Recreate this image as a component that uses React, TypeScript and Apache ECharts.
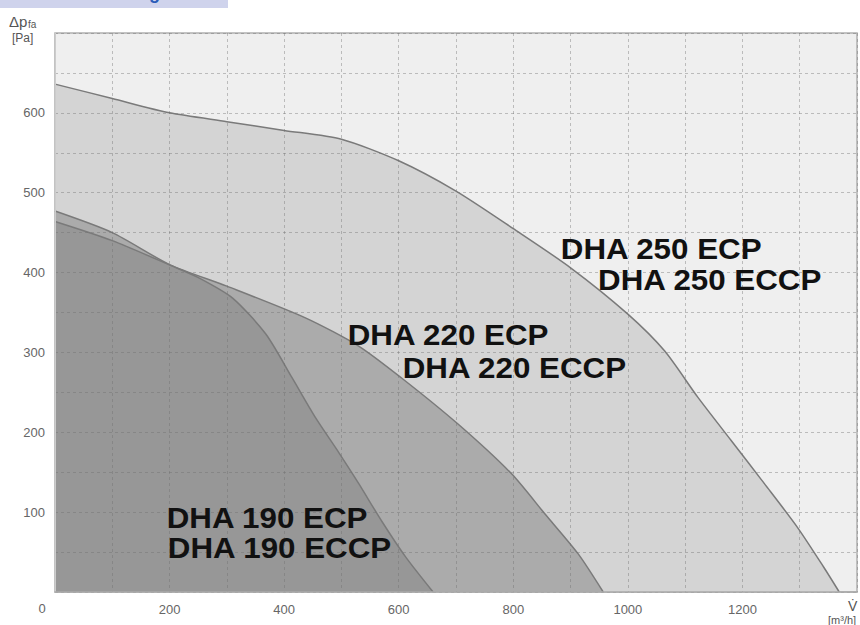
import React, { useEffect, useRef } from "react";
import * as echarts from "echarts";

// Air flow V [m³/h] and static pressure Δp_fa [Pa]
const flow250 = [0, 100, 200, 300, 400, 500, 600, 700, 800, 900, 1000, 1064, 1122, 1180, 1238, 1296, 1342, 1369];
const pres250 = [636, 618, 600, 589, 578, 567, 540, 502, 455, 406, 348, 302, 244, 190, 136, 81, 31, 0];

const flow220 = [0, 100, 200, 300, 438, 530, 605, 704, 797, 855, 913, 957];
const pres220 = [477, 450, 410, 383, 343, 308, 268, 210, 148, 98, 48, 0];

const flow190 = [0, 100, 205, 252, 310, 368, 414, 455, 496, 530, 571, 612, 660];
const pres190 = [464, 440, 408, 393, 368, 323, 268, 218, 174, 136, 88, 44, 0];

const xTickLabels = [200, 400, 600, 800, 1000, 1200];
const yTickLabels = [100, 200, 300, 400, 500, 600];

const labels250 = ["DHA 250 ECP", "DHA 250 ECCP"];
const labels220 = ["DHA 220 ECP", "DHA 220 ECCP"];
const labels190 = ["DHA 190 ECP", "DHA 190 ECCP"];

const FONT = "'Liberation Sans', Arial, sans-serif";

function makeSeries(name: string, xs: number[], ys: number[], fill: string) {
  return {
    type: "line",
    name,
    data: xs.map((x, i) => [x, ys[i]]),
    symbol: "none",
    smooth: 0.25,
    lineStyle: { color: "#7a7a7a", width: 1.5 },
    areaStyle: { color: fill, opacity: 1 },
    z: 2,
    silent: true,
  };
}

export default function App() {
  const ref = useRef<HTMLDivElement>(null);
  useEffect(() => {
    const chart = echarts.init(ref.current!, null, { renderer: "svg" });
    const grid = "rgba(110,110,110,0.4)";
    chart.setOption({
      animation: false,
      backgroundColor: "#ffffff",
      grid: {
        left: 55,
        right: -1,
        top: 33,
        bottom: 33,
        show: true,
        backgroundColor: "#efefef",
        borderColor: "#b0b0b0",
        borderWidth: 1.5,
      },
      xAxis: {
        type: "value",
        min: 0,
        max: 1400,
        interval: 100,
        z: 3,
        axisLine: { show: true, lineStyle: { color: "#aaaaaa", width: 1.5 } },
        axisTick: { show: false },
        axisLabel: {
          formatter: (v: number) => (xTickLabels.includes(v) ? String(v) : ""),
          color: "#666",
          fontSize: 13,
          margin: 11,
          fontFamily: FONT,
        },
        splitLine: { show: true, lineStyle: { color: grid, type: [3, 3], width: 1 } },
      },
      yAxis: {
        type: "value",
        min: 0,
        max: 700,
        interval: 50,
        z: 3,
        axisLine: { show: true, lineStyle: { color: "#cccccc", width: 1 } },
        axisTick: { show: false },
        axisLabel: {
          formatter: (v: number) => (yTickLabels.includes(v) ? String(v) : ""),
          color: "#666",
          fontSize: 13,
          margin: 10,
          fontFamily: FONT,
        },
        splitLine: { show: true, lineStyle: { color: grid, type: [3, 3], width: 1 } },
      },
      series: [
        makeSeries("DHA 250", flow250, pres250, "#d4d4d4"),
        makeSeries("DHA 220", flow220, pres220, "#ababab"),
        makeSeries("DHA 190", flow190, pres190, "#979797"),
      ],
    });

    // curve labels anchored in data coordinates (left edge, vertical middle)
    const annotations: { text: string; at: number[] }[] = [
      { text: labels250[0], at: [883, 430] },
      { text: labels250[1], at: [948, 391] },
      { text: labels220[0], at: [511, 322] },
      { text: labels220[1], at: [607, 281] },
      { text: labels190[0], at: [195, 93] },
      { text: labels190[1], at: [197, 55] },
    ];
    const labelGraphics = annotations.map((a) => {
      const p = chart.convertToPixel({ gridIndex: 0 }, a.at) as number[];
      return {
        type: "text",
        x: p[0],
        y: p[1],
        scaleX: 1.08,
        z: 100,
        style: {
          text: a.text,
          fill: "#111",
          font: `bold 29px ${FONT}`,
          textVerticalAlign: "middle",
          lineHeight: 29,
        },
      };
    });

    chart.setOption({
      graphic: [
        { type: "rect", left: 0, top: 0, shape: { width: 228, height: 8 }, style: { fill: "#cfd3ec" } },
        {
          type: "text",
          x: 8,
          y: 2,
          style: {
            text: "Performance diagram",
            fill: "#2a5cb8",
            font: `bold 18px ${FONT}`,
            textVerticalAlign: "bottom",
          },
        },
        { type: "text", x: 9, y: 21, style: { text: "Δp", fill: "#555", font: `15px ${FONT}`, textVerticalAlign: "middle" } },
        { type: "text", x: 28, y: 24, style: { text: "fa", fill: "#555", font: `10px ${FONT}`, textVerticalAlign: "middle" } },
        { type: "text", x: 12, y: 38, style: { text: "[Pa]", fill: "#555", font: `12px ${FONT}`, textVerticalAlign: "middle" } },
        { type: "text", x: 42, y: 608, style: { text: "0", fill: "#666", font: `13px ${FONT}`, textAlign: "center", textVerticalAlign: "middle" } },
        { type: "text", x: 848, y: 606, style: { text: "V\u0307", fill: "#555", font: `14px ${FONT}`, textVerticalAlign: "middle" } },
        { type: "text", x: 828, y: 620, style: { text: "[m³/h]", fill: "#555", font: `11px ${FONT}`, textVerticalAlign: "middle" } },
        ...labelGraphics,
      ],
    });
    return () => chart.dispose();
  }, []);
  return (
    <div
      ref={ref}
      style={{ position: "absolute", left: 0, top: 0, width: 860, height: 625, background: "#fff" }}
    />
  );
}
